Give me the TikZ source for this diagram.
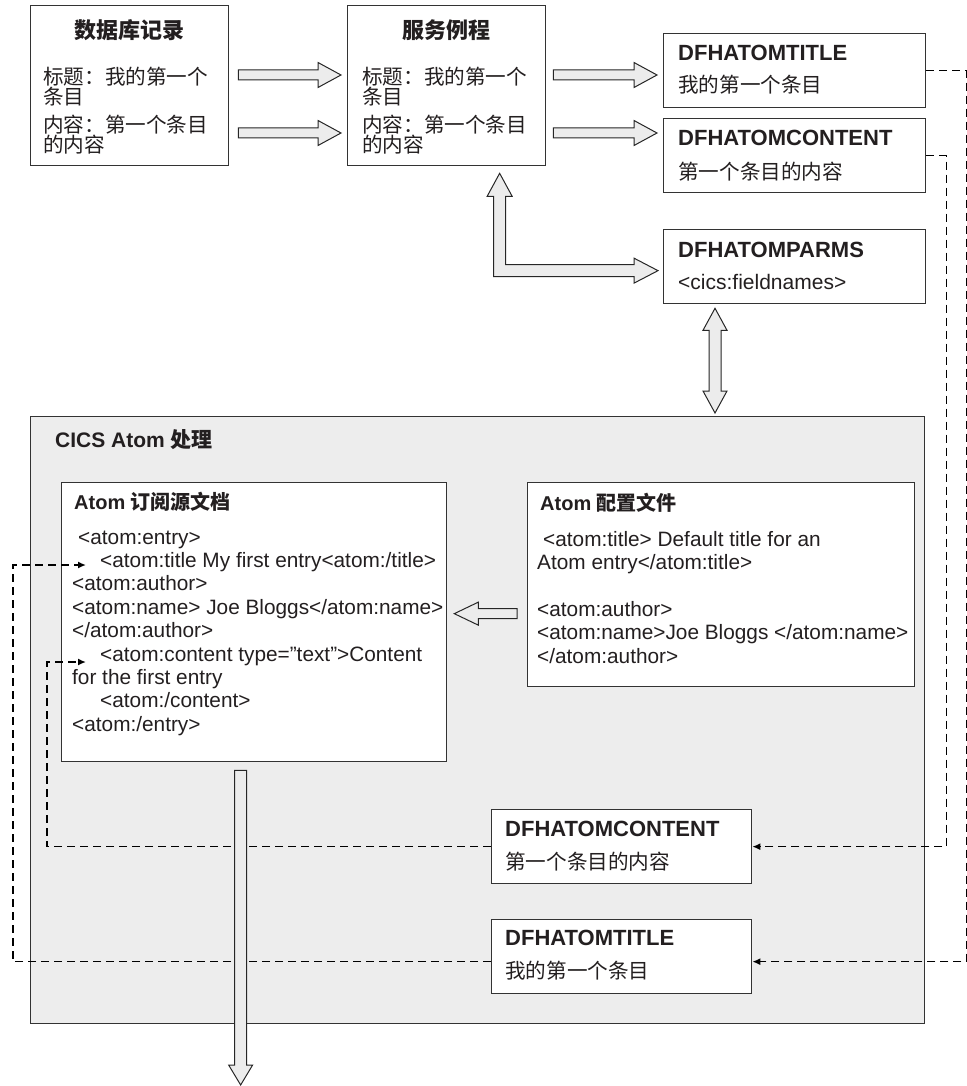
\documentclass[tikz,border=0pt]{standalone}
\usepackage{fontspec}
\setmainfont{Liberation Sans}
\newfontfamily\cjk{Noto Sans CJK SC}
\usetikzlibrary{arrows.meta,calc}

\definecolor{boxline}{HTML}{333333}
\definecolor{panelgray}{HTML}{EDEDED}
\definecolor{arrowgray}{HTML}{ECECEC}
\definecolor{inkdark}{HTML}{231F20}

\tikzset{
  box/.style={draw=boxline, fill=white, line width=1.3pt, anchor=north west, inner sep=0pt},
  blockarrow/.style={draw=black!85, fill=arrowgray, line width=1pt, line join=miter},
  dashline/.style={draw=black, line width=1.6pt, dash pattern=on 8pt off 5pt},
  dashtip/.style={-{Latex[length=8pt,width=7pt]}},
  cjkhead/.style={inner sep=0pt, text=inkdark, font=\fontsize{22}{22}\selectfont\cjk\bfseries},
  cjkbody/.style={anchor=west, inner sep=0pt, text=inkdark, font=\fontsize{20.6}{20.6}\selectfont\cjk},
  fieldhead/.style={anchor=west, inner sep=0pt, text=inkdark, font=\fontsize{22}{22}\selectfont\bfseries},
  fieldbody/.style={anchor=west, inner sep=0pt, text=inkdark, font=\fontsize{21}{21}\selectfont},
  panelhead/.style={anchor=west, inner sep=0pt, text=inkdark, font=\fontsize{21}{21}\selectfont\bfseries},
  xmlline/.style={anchor=base west, inner sep=0pt, text=inkdark, font=\fontsize{20.8}{20.8}\selectfont},
}

% fat outlined arrows (canvas units, tail/tip given as coordinates)
\newcommand{\fatright}[2]{%
  \draw[blockarrow] let \p1=(#1), \p2=(#2) in
    (\x1,\y1+5pt) -- (\x2-23pt,\y1+5pt) -- (\x2-23pt,\y1+12.5pt) -- (\x2,\y1)
    -- (\x2-23pt,\y1-12.5pt) -- (\x2-23pt,\y1-5pt) -- (\x1,\y1-5pt) -- cycle;}
\newcommand{\fatleft}[2]{%
  \draw[blockarrow] let \p1=(#1), \p2=(#2) in
    (\x1,\y1+5pt) -- (\x2+24pt,\y1+5pt) -- (\x2+24pt,\y1+11.5pt) -- (\x2,\y1)
    -- (\x2+24pt,\y1-11.5pt) -- (\x2+24pt,\y1-5pt) -- (\x1,\y1-5pt) -- cycle;}
\newcommand{\fatdown}[2]{%
  \draw[blockarrow] let \p1=(#1), \p2=(#2) in
    (\x1-6pt,\y1) -- (\x1+6pt,\y1) -- (\x1+6pt,\y2+20pt) -- (\x1+12pt,\y2+20pt) -- (\x1,\y2)
    -- (\x1-12pt,\y2+20pt) -- (\x1-6pt,\y2+20pt) -- cycle;}
\newcommand{\fatboth}[2]{%
  \draw[blockarrow] let \p1=(#1), \p2=(#2) in
    (\x1,\y1) -- (\x1+12pt,\y1-22pt) -- (\x1+6pt,\y1-22pt) -- (\x1+6pt,\y2+22pt)
    -- (\x1+12pt,\y2+22pt) -- (\x1,\y2) -- (\x1-12pt,\y2+22pt) -- (\x1-6pt,\y2+22pt)
    -- (\x1-6pt,\y1-22pt) -- (\x1-12pt,\y1-22pt) -- cycle;}
\newcommand{\fatbent}[2]{%
  \draw[blockarrow] let \p1=(#1), \p2=(#2) in
    (\x1,\y1) -- (\x1+12.5pt,\y1-23pt) -- (\x1+6pt,\y1-23pt) -- (\x1+6pt,\y2+6pt)
    -- (\x2-24pt,\y2+6pt) -- (\x2-24pt,\y2+12.5pt) -- (\x2,\y2) -- (\x2-24pt,\y2-12.5pt)
    -- (\x2-24pt,\y2-6pt) -- (\x1-6pt,\y2-6pt) -- (\x1-6pt,\y1-23pt) -- (\x1-12.5pt,\y1-23pt) -- cycle;}

\begin{document}
\begin{tikzpicture}[x=1pt,y=-1pt]
\useasboundingbox (0,0) rectangle (966,1086);

% top row: record and service routine
\node[box, minimum width=198pt, minimum height=160pt] (db) at (30,5) {};
\node[box, minimum width=198pt, minimum height=160pt] (svc) at (347,5) {};
\node[cjkhead] (dbhead) at ([yshift=-25pt]db.north) {数据库记录};
\node[cjkhead] (svchead) at ([yshift=-25pt]svc.north) {服务例程};
\foreach \bx/\dx in {db/13, svc/15} {
  \node[cjkbody] (\bx-l1) at ([xshift=\dx pt,yshift=-72pt]\bx.north west) {标题：我的第一个};
  \node[cjkbody] (\bx-l2) at ([xshift=\dx pt,yshift=-92pt]\bx.north west) {条目};
  \node[cjkbody] (\bx-l3) at ([xshift=\dx pt,yshift=-120pt]\bx.north west) {内容：第一个条目};
  \node[cjkbody] (\bx-l4) at ([xshift=\dx pt,yshift=-140pt]\bx.north west) {的内容};
}

% containers on the right
\node[box, minimum width=262pt, minimum height=74pt] (ttl) at (663,33) {};
\node[box, minimum width=262pt, minimum height=74pt] (cnt) at (663,118) {};
\node[box, minimum width=262pt, minimum height=74pt] (parms) at (663,229) {};
\node[fieldhead] (ttlhead) at ([xshift=15pt,yshift=-20pt]ttl.north west) {DFHATOMTITLE};
\node[cjkbody] (ttltext) at ([xshift=15pt,yshift=-52pt]ttl.north west) {我的第一个条目};
\node[fieldhead] (cnthead) at ([xshift=15pt,yshift=-20pt]cnt.north west) {DFHATOMCONTENT};
\node[cjkbody] (cnttext) at ([xshift=15pt,yshift=-54pt]cnt.north west) {第一个条目的内容};
\node[fieldhead] (parmshead) at ([xshift=15pt,yshift=-21pt]parms.north west) {DFHATOMPARMS};
\node[fieldbody] (parmstext) at ([xshift=15pt,yshift=-53pt]parms.north west) {<cics:fieldnames>};

% CICS Atom processing panel
\node[box, fill=panelgray, minimum width=894pt, minimum height=607pt] (cics) at (30,416) {};
\node[panelhead] (cicshead) at ([xshift=25pt,yshift=-24pt]cics.north west) {CICS Atom {\cjk 处理}};

\node[box, minimum width=385pt, minimum height=279pt] (feed) at (61,482) {};
\node[panelhead, font=\fontsize{20}{20}\selectfont\bfseries] (feedhead)
  at ([xshift=13pt,yshift=-20pt]feed.north west) {Atom {\cjk 订阅源文档}};
\foreach \dx/\txt [count=\i] in {17/{<atom:entry>},
    39/{<atom:title My first entry<atom:/title>},
    11/{<atom:author>},
    11/{<atom:name> Joe Bloggs</atom:name>},
    11/{</atom:author>},
    39/{<atom:content type="text">Content},
    11/{for the first entry},
    39/{<atom:/content>},
    11/{<atom:/entry>}}
  \node[xmlline] (feed-\i) at ([xshift=\dx pt,yshift={-62pt-(\i-1)*23.4pt}]feed.north west) {\txt};

\node[box, minimum width=387pt, minimum height=204pt] (prof) at (527,482) {};
\node[panelhead, font=\fontsize{20}{20}\selectfont\bfseries] (profhead)
  at ([xshift=13pt,yshift=-21pt]prof.north west) {Atom {\cjk 配置文件}};
\foreach \dx/\k/\txt in {16/0/{<atom:title> Default title for an},
    10/1/{Atom entry</atom:title>},
    10/3/{<atom:author>},
    10/4/{<atom:name>Joe Bloggs </atom:name>},
    10/5/{</atom:author>}}
  \node[xmlline] (prof-\k) at ([xshift=\dx pt,yshift={-64pt-\k*23.4pt}]prof.north west) {\txt};

\node[box, minimum width=260pt, minimum height=74pt] (cnt2) at (491,809) {};
\node[box, minimum width=260pt, minimum height=74pt] (ttl2) at (491,919) {};
\node[fieldhead] (cnt2head) at ([xshift=14pt,yshift=-20pt]cnt2.north west) {DFHATOMCONTENT};
\node[cjkbody] (cnt2text) at ([xshift=14pt,yshift=-53pt]cnt2.north west) {第一个条目的内容};
\node[fieldhead] (ttl2head) at ([xshift=14pt,yshift=-19pt]ttl2.north west) {DFHATOMTITLE};
\node[cjkbody] (ttl2text) at ([xshift=14pt,yshift=-52pt]ttl2.north west) {我的第一个条目};

% dashed flows
\coordinate (titlein) at (86,565);
\coordinate (contentin) at (86,662);
\draw[dashline, dashtip] (ttl.east) -- ++(40,0) |- ([yshift=-5pt]ttl2.east);
\draw[dashline, dashtip] ([yshift=-5pt]ttl2.west) -- ++(-478,0) |- (titlein);
\draw[dashline, dashtip] (cnt.east) -- ++(20,0) |- (cnt2.east);
\draw[dashline, dashtip] (cnt2.west) -- ++(-444,0) |- (contentin);

% block arrows
\fatright{[xshift=9pt,yshift=-70pt]db.north east}{[xshift=-6pt,yshift=-70pt]svc.north west}
\fatright{[xshift=9pt,yshift=-128pt]db.north east}{[xshift=-6pt,yshift=-128pt]svc.north west}
\fatright{[xshift=7pt,yshift=-70pt]svc.north east}{[xshift=-6pt,yshift=-5pt]ttl.west}
\fatright{[xshift=7pt,yshift=-128pt]svc.north east}{[xshift=-6pt,yshift=22pt]cnt.west}
\fatbent{[xshift=53pt,yshift=-7pt]svc.south}{[xshift=-5pt,yshift=-4pt]parms.west}
\fatboth{$(parms.south west)+(52,4)$}{$(parms.south west |- cics.north)+(52,-3)$}
\fatleft{$(prof.west)+(-10,29)$}{$(feed.east)+(7,-8.5)$}
\coordinate (outtip) at (240,1085);
\fatdown{$(feed.south)+(-13.5,8)$}{outtip}
\end{tikzpicture}
\end{document}
